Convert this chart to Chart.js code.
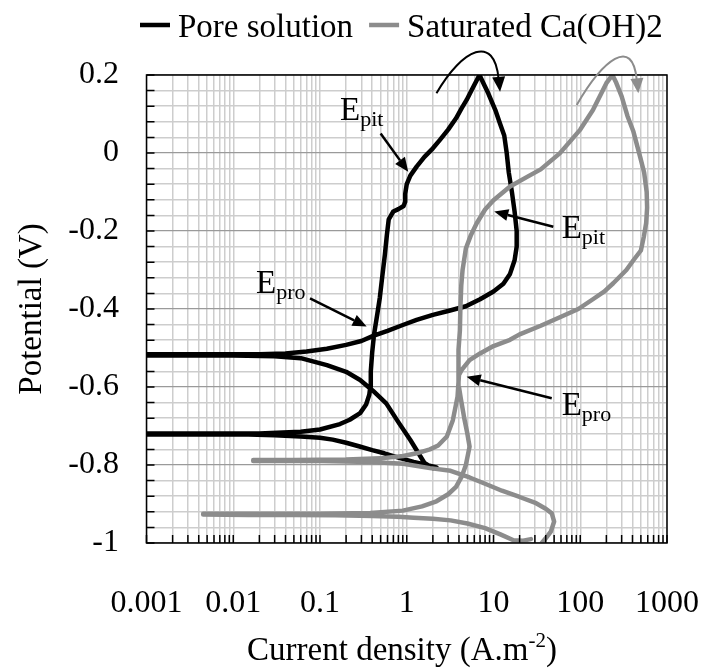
<!DOCTYPE html>
<html>
<head>
<meta charset="utf-8">
<script src="https://cdn.jsdelivr.net/npm/chart.js@4.4.0/dist/chart.umd.min.js"></script>
<style>
  html, body { margin: 0; padding: 0; background: #fff; }
</style>
</head>
<body>
<canvas id="chart" width="703" height="669"></canvas>
<script>
// Tick labels
const xTickValues = [0.001, 0.01, 0.1, 1, 10, 100, 1000];
const xTickLabels = ['0.001', '0.01', '0.1', '1', '10', '100', '1000'];
const yTickValues = [-1, -0.8, -0.6, -0.4, -0.2, 0, 0.2];
const yTickLabels = ['-1', '-0.8', '-0.6', '-0.4', '-0.2', '0', '0.2'];

// Pore solution, in scan order (A.m-2 / V)
const poreCurrent = [2.2, 1.7, 1.2, 0.8, 0.55, 0.4, 0.28, 0.2, 0.14, 0.1, 0.06, 0.03, 0.015, 0.005, 0.001,
  0.001, 0.005, 0.02, 0.06, 0.1, 0.17, 0.22, 0.29, 0.34, 0.37, 0.38, 0.385, 0.40, 0.42, 0.46, 0.49, 0.52, 0.56, 0.59, 0.62,
  0.70, 0.80, 0.92, 0.96, 0.96, 1.0, 1.1, 1.3, 1.6, 2.0, 2.4, 3.0, 3.7, 4.3, 4.9, 5.8, 6.9,
  7.8, 8.7, 10.5, 11.9, 13.3, 14.2, 15, 16.3, 17.5, 18.5, 18.5, 17.5, 15.5, 13, 10, 7, 4.8, 3, 2, 1.3, 0.9, 0.6, 0.41,
  0.3, 0.2, 0.12, 0.07, 0.04, 0.02, 0.005, 0.001,
  0.001, 0.01, 0.03, 0.06, 0.12, 0.2, 0.29, 0.41, 0.58, 0.8, 1.1, 1.6, 2.0];
const porePotential = [-0.806, -0.800, -0.792, -0.781, -0.770, -0.762, -0.752, -0.743, -0.735, -0.730, -0.727, -0.724, -0.722, -0.722, -0.722,
  -0.719, -0.719, -0.719, -0.715, -0.709, -0.695, -0.684, -0.667, -0.645, -0.620, -0.600, -0.560, -0.510, -0.465, -0.41, -0.37, -0.32, -0.26, -0.21, -0.170,
  -0.150, -0.144, -0.136, -0.125, -0.105, -0.080, -0.058, -0.035, -0.010, 0.012, 0.033, 0.060, 0.089, 0.115, 0.136, 0.168, 0.200,
  0.175, 0.153, 0.11, 0.075, 0.045, 0.0, -0.05, -0.10, -0.15, -0.20, -0.24, -0.275, -0.31, -0.335, -0.355, -0.375, -0.393, -0.405, -0.415, -0.428, -0.441, -0.456, -0.469,
  -0.482, -0.492, -0.502, -0.509, -0.514, -0.516, -0.516, -0.516,
  -0.519, -0.519, -0.521, -0.526, -0.544, -0.561, -0.582, -0.610, -0.642, -0.690, -0.736, -0.795, -0.808];

// Saturated Ca(OH)2, in scan order
const caCurrent = [27, 22, 17, 12, 8, 5, 3.2, 2, 1.2, 0.8, 0.4, 0.15, 0.05, 0.015, 0.0045,
  0.0045, 0.015, 0.1, 0.38, 0.9, 1.5, 2.2, 3.0, 3.7, 4.3, 4.8, 5.3, 5.0, 4.6, 4.2, 4.0, 3.9, 4.0, 4.1, 4.15, 4.25, 4.4, 4.8,
  5.5, 6.4, 8, 10, 15.5, 25, 35, 58, 80, 100, 140, 200, 235,
  260, 300, 350, 410, 490, 545, 583, 590, 575, 540, 500, 410, 340, 240, 190, 140, 95, 60, 35, 20, 15.5, 10, 7.0, 5.3, 4.3, 4.0,
  3.85, 3.4, 2.9, 2.3, 1.85, 1.3, 0.91, 0.5, 0.2, 0.05, 0.017,
  0.017, 0.1, 0.38, 0.91, 1.85, 3.2, 5.3, 8, 12.5, 20, 31, 40, 47, 50, 46, 40, 36];
const caPotential = [-0.990, -0.994, -0.993, -0.978, -0.962, -0.950, -0.942, -0.938, -0.935, -0.933, -0.931, -0.929, -0.928, -0.928, -0.927,
  -0.925, -0.925, -0.925, -0.923, -0.917, -0.906, -0.893, -0.875, -0.856, -0.830, -0.800, -0.753, -0.720, -0.680, -0.630, -0.600, -0.565, -0.505, -0.454, -0.40, -0.34, -0.30, -0.245,
  -0.21, -0.180, -0.145, -0.121, -0.086, -0.06, -0.042, -0.001, 0.035, 0.06, 0.110, 0.179, 0.2,
  0.18, 0.145, 0.095, 0.055, -0.01, -0.05, -0.10, -0.14, -0.18, -0.215, -0.25, -0.275, -0.30, -0.334, -0.355, -0.375, -0.40, -0.42, -0.443, -0.465, -0.479, -0.495, -0.514, -0.531, -0.556, -0.569,
  -0.625, -0.685, -0.727, -0.750, -0.760, -0.770, -0.777, -0.783, -0.786, -0.787, -0.787,
  -0.790, -0.790, -0.792, -0.797, -0.808, -0.815, -0.832, -0.848, -0.866, -0.882, -0.898, -0.912, -0.924, -0.945, -0.970, -0.988, -1.0];

const FONT = "'Liberation Serif', 'Times New Roman', serif";
const GRAY = '#8c8c8c';

function zip(xs, ys) {
  return xs.map((v, i) => ({x: v, y: ys[i]}));
}

// grid positions: 1..9 in every decade, 0.04 V steps
const xGrid = [];
for (let d = 0; d < xTickValues.length - 1; d++) {
  for (let m = 1; m <= 9; m++) xGrid.push(Number((xTickValues[d] * m).toPrecision(6)));
}
xGrid.push(xTickValues[xTickValues.length - 1]);
const yGrid = [];
for (let i = 0; i <= 30; i++) yGrid.push(Math.round((-1 + i * 0.04) * 1000) / 1000);

function isYMajor(v) { return yTickValues.some(t => Math.abs(t - v) < 1e-6); }

function arrow(ctx, x1, y1, x2, y2, color) {
  const a = Math.atan2(y2 - y1, x2 - x1);
  const len = 14, half = 6;
  const c = Math.cos(a), s = Math.sin(a);
  ctx.strokeStyle = color;
  ctx.fillStyle = color;
  ctx.lineWidth = 2.5;
  ctx.beginPath();
  ctx.moveTo(x1, y1);
  ctx.lineTo(x2 - len * c, y2 - len * s);
  ctx.stroke();
  ctx.beginPath();
  ctx.moveTo(x2, y2);
  ctx.lineTo(x2 - len * c + half * s, y2 - len * s - half * c);
  ctx.lineTo(x2 - len * c - half * s, y2 - len * s + half * c);
  ctx.closePath();
  ctx.fill();
}

function curvedArrow(ctx, p0, tip, color) {
  const p3 = {x: tip.x - 1.5, y: tip.y - 13};
  const c1 = {x: p0.x + 26, y: p0.y - 45};
  const c2 = {x: p3.x - 4, y: p3.y - 45};
  ctx.strokeStyle = color;
  ctx.fillStyle = color;
  ctx.lineWidth = 2;
  ctx.beginPath();
  ctx.moveTo(p0.x, p0.y);
  ctx.bezierCurveTo(c1.x, c1.y, c2.x, c2.y, p3.x, p3.y);
  ctx.stroke();
  const a = Math.atan2(tip.y - c2.y, tip.x - c2.x);
  const c = Math.cos(a), s = Math.sin(a);
  ctx.beginPath();
  ctx.moveTo(tip.x, tip.y);
  ctx.lineTo(tip.x - 15 * c + 6.5 * s, tip.y - 15 * s - 6.5 * c);
  ctx.lineTo(tip.x - 15 * c - 6.5 * s, tip.y - 15 * s + 6.5 * c);
  ctx.closePath();
  ctx.fill();
}

function subLabel(ctx, x, y, main, sub) {
  ctx.fillStyle = '#000';
  ctx.textAlign = 'left';
  ctx.textBaseline = 'alphabetic';
  ctx.font = '33px ' + FONT;
  ctx.fillText(main, x, y);
  const w = ctx.measureText(main).width;
  ctx.font = '22px ' + FONT;
  ctx.fillText(sub, x + w, y + 6);
}

// annotations: text anchor, arrow tail, arrow head (data units)
const notes = [
  {text: [0.170, 0.085], sub: 'pit', tail: [0.50, 0.050], head: [1.04, -0.048]},
  {text: [0.0183, -0.359], sub: 'pro', tail: [0.0767, -0.373], head: [0.345, -0.445]},
  {text: [61.1, -0.218], sub: 'pit', tail: [48.9, -0.189], head: [10.2, -0.150]},
  {text: [61.1, -0.672], sub: 'pro', tail: [46.9, -0.629], head: [4.9, -0.574]}
];

const overlay = {
  id: 'overlay',
  afterDraw(chart) {
    const {ctx, chartArea: area, scales: {x, y}} = chart;
    const px = p => ({x: x.getPixelForValue(p[0]), y: y.getPixelForValue(p[1])});
    ctx.save();

    // inner tick marks
    ctx.strokeStyle = '#000';
    ctx.lineWidth = 1.5;
    ctx.beginPath();
    xGrid.forEach(v => {
      const p = x.getPixelForValue(v);
      ctx.moveTo(p, area.bottom);
      ctx.lineTo(p, area.bottom - 8);
    });
    yGrid.forEach(v => {
      const p = y.getPixelForValue(v);
      ctx.moveTo(area.left, p);
      ctx.lineTo(area.left + 8, p);
    });
    ctx.stroke();

    // frame
    ctx.lineWidth = 1.5;
    ctx.strokeRect(area.left, area.top, area.right - area.left, area.bottom - area.top);

    // scan direction arrows at the top
    curvedArrow(ctx, px([2.2, 0.153]), px([11.9, 0.157]), '#000');
    curvedArrow(ctx, px([91, 0.123]), px([467, 0.153]), GRAY);

    // E_pit / E_pro
    notes.forEach(n => {
      const t = px(n.text);
      subLabel(ctx, t.x, t.y, 'E', n.sub);
      const a = px(n.tail), b = px(n.head);
      arrow(ctx, a.x, a.y, b.x, b.y, '#000');
    });

    // legend
    let lx = 140;
    const ly = 25;
    ctx.font = '33px ' + FONT;
    ctx.textBaseline = 'alphabetic';
    ctx.textAlign = 'left';
    chart.data.datasets.forEach(ds => {
      ctx.fillStyle = ds.borderColor;
      ctx.fillRect(lx, ly - 2.25, 30, 4.5);
      lx += 38;
      ctx.fillStyle = '#000';
      ctx.fillText(ds.label, lx, 37);
      lx += ctx.measureText(ds.label).width + 16;
    });

    // axis titles
    ctx.fillStyle = '#000';
    ctx.save();
    ctx.translate(41, (area.top + area.bottom) / 2);
    ctx.rotate(-Math.PI / 2);
    ctx.textAlign = 'center';
    ctx.font = '33px ' + FONT;
    ctx.fillText('Potential (V)', 0, 0);
    ctx.restore();

    const t1 = 'Current density (A.m', t2 = '-2', t3 = ')';
    ctx.font = '33px ' + FONT;
    const w1 = ctx.measureText(t1).width, w3 = ctx.measureText(t3).width;
    ctx.font = '21px ' + FONT;
    const w2 = ctx.measureText(t2).width;
    let tx = 402 - (w1 + w2 + w3) / 2;
    const ty = 660;
    ctx.textAlign = 'left';
    ctx.font = '33px ' + FONT;
    ctx.fillText(t1, tx, ty);
    tx += w1;
    ctx.font = '21px ' + FONT;
    ctx.fillText(t2, tx, ty - 13);
    tx += w2;
    ctx.font = '33px ' + FONT;
    ctx.fillText(t3, tx, ty);

    ctx.restore();
  }
};

new Chart(document.getElementById('chart'), {
  type: 'scatter',
  data: {
    datasets: [
      {
        label: 'Pore solution',
        data: zip(poreCurrent, porePotential),
        borderColor: '#000',
        backgroundColor: '#000',
        showLine: true,
        pointRadius: 0,
        borderWidth: 4.5,
        borderJoinStyle: 'round',
        borderCapStyle: 'round',
        order: 1
      },
      {
        label: 'Saturated Ca(OH)2',
        data: zip(caCurrent, caPotential),
        borderColor: GRAY,
        backgroundColor: GRAY,
        showLine: true,
        pointRadius: 0,
        borderWidth: 4.5,
        borderJoinStyle: 'round',
        borderCapStyle: 'round',
        order: 0
      }
    ]
  },
  options: {
    responsive: false,
    animation: false,
    layout: { padding: { top: 75, right: 36, left: 0, bottom: 0 } },
    plugins: { legend: { display: false }, tooltip: { enabled: false } },
    scales: {
      x: {
        type: 'logarithmic',
        min: 0.001,
        max: 1000,
        afterBuildTicks(scale) { scale.ticks = xGrid.map(v => ({value: v})); },
        afterFit(scale) {
          scale.height = 126;
          scale.paddingLeft = 0;
          scale.paddingRight = 0;
        },
        border: { display: false },
        grid: { drawTicks: false, color: '#cdcdcd', lineWidth: 1.5 },
        ticks: {
          autoSkip: false,
          maxRotation: 0,
          minRotation: 0,
          padding: 41,
          color: '#000',
          font: { family: FONT, size: 32 },
          callback(v) {
            const i = xTickValues.findIndex(t => Math.abs(t - v) / t < 1e-6);
            return i >= 0 ? xTickLabels[i] : '';
          }
        }
      },
      y: {
        type: 'linear',
        min: -1,
        max: 0.2,
        afterBuildTicks(scale) { scale.ticks = yGrid.map(v => ({value: v})); },
        afterFit(scale) {
          scale.width = 146.5;
          scale.paddingTop = 0;
          scale.paddingBottom = 0;
        },
        border: { display: false },
        grid: {
          drawTicks: false,
          color: ctx => (ctx.tick && isYMajor(ctx.tick.value)) ? '#9a9a9a' : '#cdcdcd',
          lineWidth: ctx => (ctx.tick && isYMajor(ctx.tick.value)) ? 1.2 : 1.5
        },
        ticks: {
          autoSkip: false,
          padding: 27.5,
          color: '#000',
          font: { family: FONT, size: 32 },
          callback(v) {
            const i = yTickValues.findIndex(t => Math.abs(t - v) < 1e-6);
            return i >= 0 ? yTickLabels[i] : '';
          }
        }
      }
    }
  },
  plugins: [overlay]
});
</script>
</body>
</html>
